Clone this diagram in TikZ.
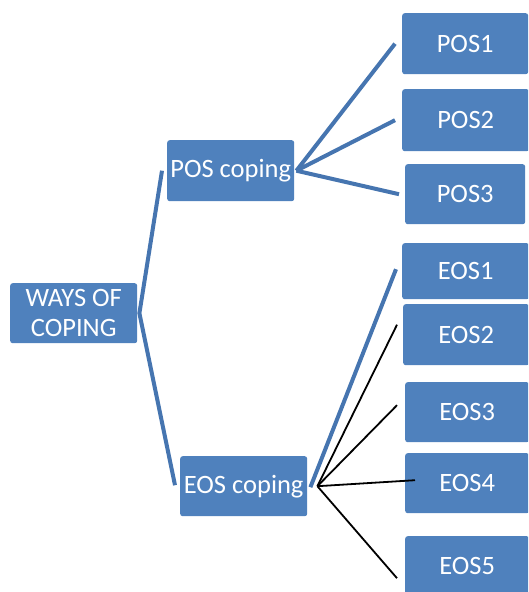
\documentclass[tikz,border=0pt]{standalone}
\usepackage{fontspec}
\setmainfont{Carlito}
\definecolor{boxblue}{HTML}{4F81BD}
\definecolor{lineblue}{HTML}{4675B0}
\begin{document}
\begin{tikzpicture}[x=1pt,y=-1pt,
  box/.style={draw=none,fill=boxblue,rounded corners=2.5pt,text=white,inner sep=0pt,
    font=\fontsize{26.5}{30}\selectfont,align=center,anchor=north west},
  thick link/.style={draw=lineblue,line width=4pt},
  thin link/.style={draw=black,line width=1.8pt}]
\useasboundingbox (0,0) rectangle (528,592);
\clip (0,0) rectangle (528,592);
\node[box,minimum width=127pt,minimum height=60pt] (ways) at (10,283) {WAYS OF\\COPING};
\node[box,minimum width=127pt,minimum height=61pt] (pos) at (167,140) {POS coping};
\node[box,minimum width=127pt,minimum height=60pt] (eos) at (180,456) {EOS coping};
\node[box,minimum width=126pt,minimum height=61pt] (pos1) at (402,13) {POS1};
\node[box,minimum width=127pt,minimum height=62pt] (pos2) at (402,89) {POS2};
\node[box,minimum width=120pt,minimum height=60pt] (pos3) at (405,164) {POS3};
\node[box,minimum width=127pt,minimum height=56pt] (eos1) at (402,243) {EOS1};
\node[box,minimum width=126pt,minimum height=61pt] (eos2) at (403,304) {EOS2};
\node[box,minimum width=124pt,minimum height=60pt] (eos3) at (405,382) {EOS3};
\node[box,minimum width=124pt,minimum height=60pt] (eos4) at (405,453) {EOS4};
\node[box,minimum width=124pt,minimum height=64pt,anchor=north west] (eos5) at (405,536) {EOS5\vphantom{p}};
% connectors
\coordinate (wf) at ([xshift=2pt]ways.east);
\draw[thick link,line join=miter] ([shift={(-5pt,0pt)}]pos.west) -- (wf) -- ([shift={(-5pt,1pt)}]eos.west);
\coordinate (pf) at ([xshift=2pt]pos.east);
\draw[thick link] (pf) -- ([shift={(-7pt,0pt)}]pos1.west);
\draw[thick link] (pf) -- ([shift={(-7pt,0pt)}]pos2.west);
\draw[thick link] (pf) -- ([shift={(-6pt,0pt)}]pos3.west);
\coordinate (ef) at ([xshift=10pt]eos.east);
\draw[thick link] ([xshift=3pt,yshift=-1pt]eos.east) -- ([shift={(-6pt,2pt)}]eos1.west);
\draw[thin link] (ef) -- ([shift={(-6pt,10pt)}]eos2.west);
\draw[thin link] (ef) -- ([shift={(-8pt,7pt)}]eos3.west);
\draw[thin link] (ef) -- ([shift={(10pt,3pt)}]eos4.west);
\draw[thin link] (ef) -- ([shift={(-8pt,-10pt)}]eos5.west);
\end{tikzpicture}
\end{document}
